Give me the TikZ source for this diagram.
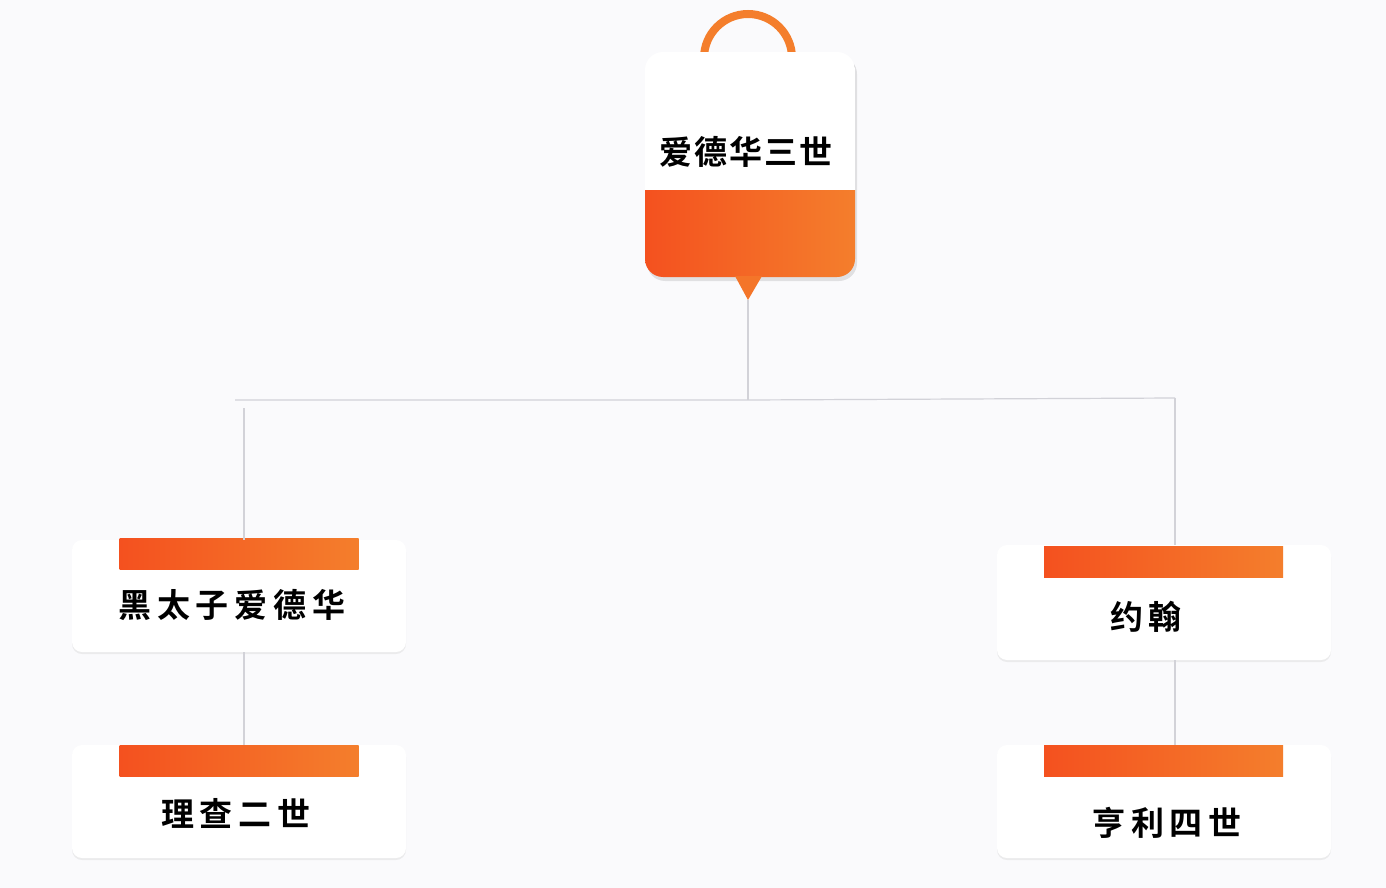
\documentclass[tikz,border=0pt]{standalone}
\usepackage{fontspec}
\newfontfamily\cjk{Noto Sans CJK SC Bold}[LetterSpace=18]
\newfontfamily\cjktop{Noto Sans CJK SC Bold}[LetterSpace=6]
\usetikzlibrary{shadows}
\definecolor{bg}{HTML}{FAFAFC}
\definecolor{oranA}{HTML}{F4511F}
\definecolor{oranB}{HTML}{F47E2C}
\definecolor{linec}{HTML}{D2D2D8}
\tikzset{
  card/.style={draw=none, fill=white, rounded corners=10pt, minimum width=334pt,
    drop shadow={opacity=0.12, shadow xshift=0pt, shadow yshift=-2pt}},
  bar/.style={draw=none, left color=oranA, right color=oranB, minimum width=239pt, minimum height=31pt, inner sep=0pt},
  label/.style={font=\cjk\fontsize{33}{40}\selectfont, text=black, inner sep=0pt},
  toplabel/.style={font=\cjktop\fontsize{33}{40}\selectfont, text=black, inner sep=0pt},
  conn/.style={draw=linec, line width=1.2pt}
}
\begin{document}
\begin{tikzpicture}[x=1pt,y=-1pt]
\useasboundingbox[fill=bg] (0,0) rectangle (1386,888);
% top node
\draw[line width=8pt, oranB] (704,58) arc[start angle=180, end angle=360, radius=44];
\fill[black, opacity=0.10, rounded corners=18pt] (647,56) rectangle (857,281);
\begin{scope}
  \clip[rounded corners=18pt] (645,52) rectangle (855,277);
  \fill[white] (645,52) rectangle (855,190);
  \shade[left color=oranA, right color=oranB] (645,190) rectangle (855,277);
\end{scope}
\fill[oranB!80!oranA] (735,276) -- (748,300) -- (762,276) -- cycle;
\coordinate (tip) at (748,300);
\node[toplabel] (top) at (746,152) {爱德华三世};
% cards
\node[card, minimum height=112pt] (b1) at (239,596) {};
\node[bar] (b1bar) at (239,554) {};
\node[label] (t1) at (232,605) {黑太子爱德华};
\node[card, minimum height=113pt] (b2) at (239,801.5) {};
\node[bar] (b2bar) at (239,760.5) {};
\node[label] (t2) at (236,813) {理查二世};
\node[card, minimum height=115pt] (c1) at (1164,602.5) {};
\node[bar] (c1bar) at (1163.5,561.5) {};
\node[label] (u1) at (1146,617) {约翰};
\node[card, minimum height=113pt] (c2) at (1164,801.5) {};
\node[bar] (c2bar) at (1163.5,760.5) {};
\node[label] (u2) at (1167,823) {亨利四世};
% connectors
\coordinate (jn) at (748,400);
\coordinate (hl) at (235,400);
\coordinate (hr) at (1175,398);
\coordinate (l1) at (244,408);
\draw[conn] (tip) -- (jn);
\draw[conn] (hl) -- (jn) -- (hr);
\draw[conn] (hr) -- (hr |- c1.north);
\draw[conn] (l1) -- (l1 |- b1.north);
\draw[conn] (l1 |- b1.south) -- (l1 |- b2.north);
\draw[conn] (hr |- c1.south) -- (hr |- c2.north);
\end{tikzpicture}
\end{document}
